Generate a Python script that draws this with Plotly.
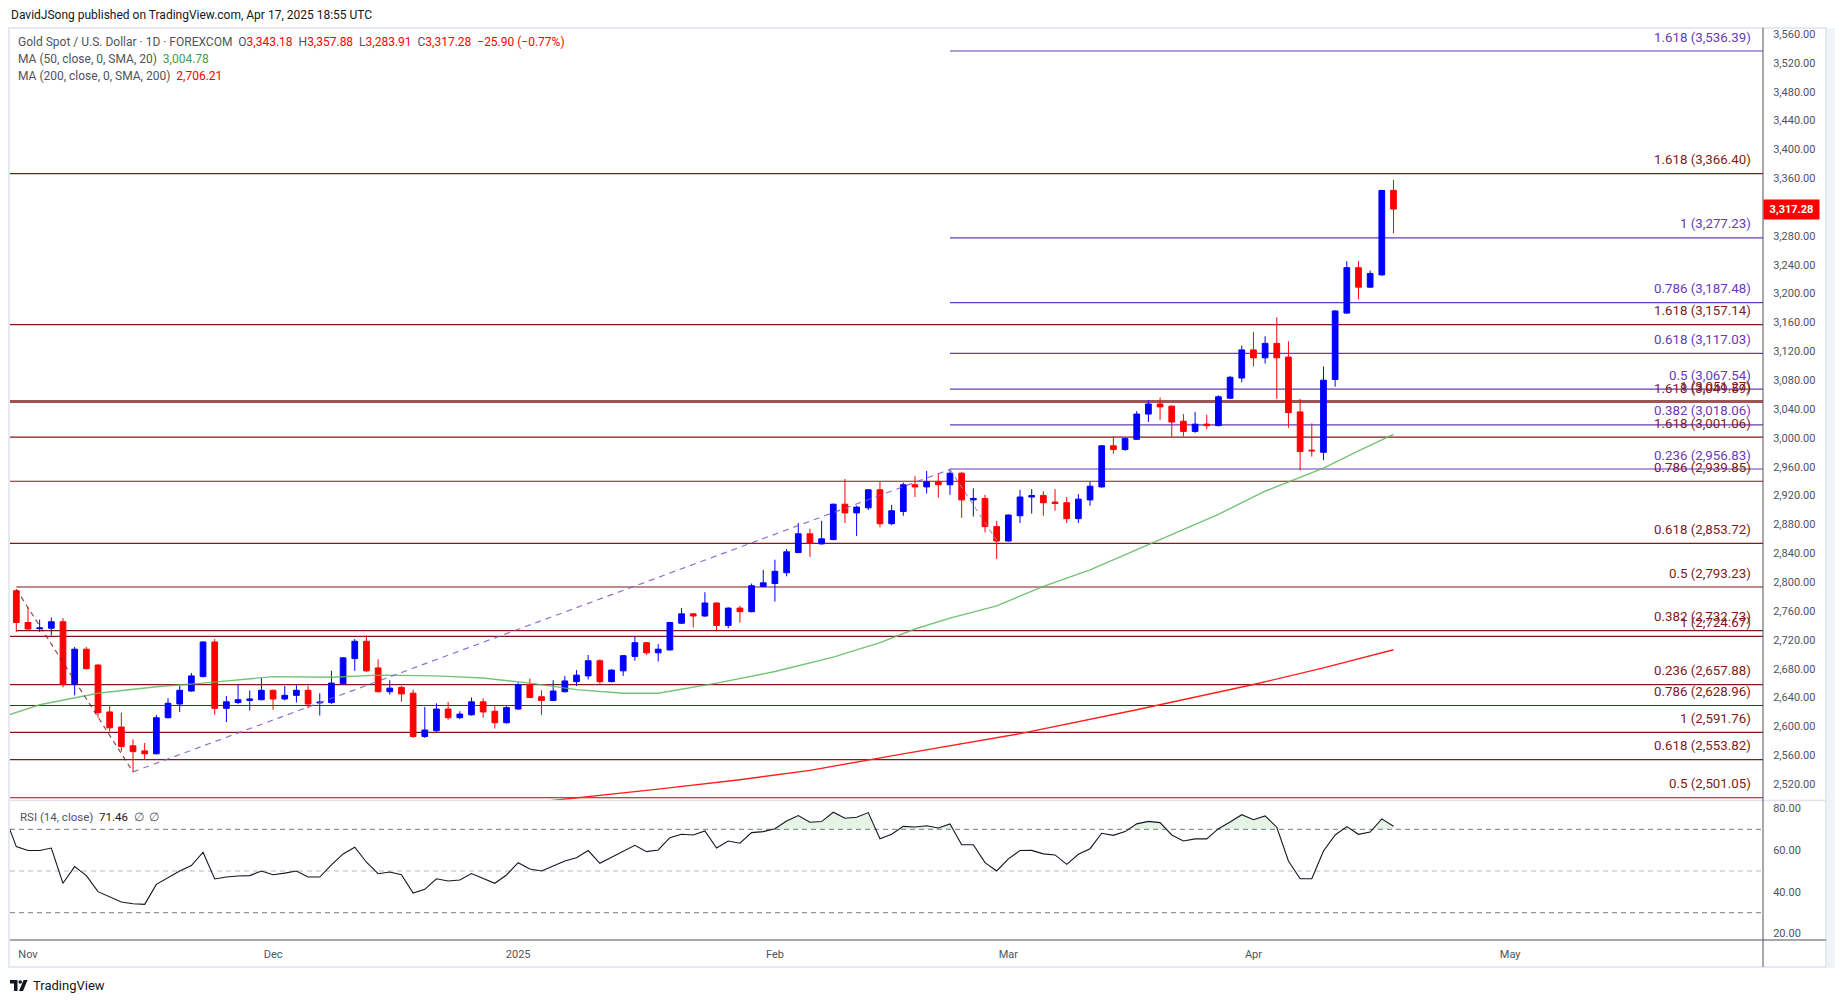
import plotly.graph_objects as go

# ---------------- data ----------------
# bar index 0 = 2024-10-31 ... 118 = 2025-04-17 (daily trading bars)
opens = [2788, 2744, 2735.5, 2736, 2745, 2658, 2707, 2685, 2620, 2599,
         2573, 2566, 2562, 2612, 2631, 2649, 2669, 2717, 2625, 2633,
         2636, 2637, 2650, 2638, 2643, 2650, 2632.5, 2633, 2659, 2694,
         2718, 2681, 2648, 2654, 2646, 2586, 2594, 2624, 2612, 2616,
         2634, 2621, 2605, 2624, 2658, 2641, 2636, 2648, 2662, 2670,
         2691, 2662, 2677, 2697, 2716, 2702, 2706, 2743, 2756, 2753,
         2771, 2740, 2764, 2759, 2794, 2798, 2813, 2841, 2867, 2853,
         2859, 2908, 2896, 2903, 2928, 2881, 2898, 2935, 2932, 2939,
         2935, 2951, 2914, 2916, 2877, 2857, 2892, 2918, 2920, 2911,
         2910, 2888, 2914, 2932, 2989, 2984, 2998, 3033, 3047, 3044,
         3023, 3009, 3019, 3017, 3055, 3083, 3122, 3111, 3131, 3112,
         3036, 2983, 2980, 3081, 3173, 3236, 3209, 3226, 3343.18]
highs = [2790, 2765, 2748, 2751, 2750, 2710, 2710, 2686, 2629, 2619,
         2582, 2577, 2616, 2639, 2656, 2674, 2718, 2721, 2642, 2658,
         2650, 2667, 2651, 2656, 2657, 2656, 2646, 2677, 2696, 2721,
         2726, 2693, 2664, 2656, 2651, 2627, 2632, 2634, 2621, 2640,
         2639, 2628, 2628, 2661, 2666, 2650, 2664, 2670, 2678, 2699,
         2693, 2679, 2699, 2725, 2717, 2714, 2745, 2764, 2757, 2786,
         2772, 2765, 2767, 2798, 2817, 2831, 2846, 2882, 2874, 2885,
         2909, 2943, 2906, 2929, 2939, 2907, 2938, 2947, 2954, 2951,
         2956.3, 2953, 2930, 2921, 2885, 2894, 2928, 2929, 2926, 2929,
         2918, 2922, 2939, 2990, 3002, 3000, 3037, 3052, 3056, 3045,
         3033, 3036, 3032, 3059, 3086, 3128, 3147, 3141, 3167, 3134,
         3054, 3020, 3099, 3177, 3245, 3245, 3232, 3344, 3357.88]
lows = [2731, 2734, 2731, 2726, 2654, 2643, 2679, 2612, 2593, 2565,
        2536.9, 2554, 2561, 2611, 2620, 2648, 2668, 2616, 2606, 2631,
        2622, 2636, 2623, 2636, 2633, 2625, 2615, 2631, 2658, 2677,
        2675, 2647, 2644, 2634, 2584, 2584, 2592, 2609, 2610, 2615,
        2612, 2597, 2604, 2623, 2639, 2616, 2635, 2647, 2656, 2665,
        2659, 2661, 2670, 2691, 2699, 2690, 2705, 2742, 2737, 2752,
        2732, 2736, 2744, 2758, 2793, 2773, 2808, 2840, 2835, 2852,
        2858, 2882, 2864, 2900, 2876, 2879, 2892, 2918, 2923, 2917,
        2921, 2889, 2891, 2869, 2832, 2856, 2882, 2895, 2892, 2899,
        2882, 2882, 2906, 2931, 2978, 2982, 2997, 3022, 3025, 3001,
        3002, 3007, 3012, 3016, 3054, 3077, 3099, 3103, 3054, 3014,
        2955, 2974, 2969, 3071, 3172, 3192, 3208, 3225, 3283.91]
closes = [2744, 2735, 2736.5, 2745, 2658, 2707, 2680, 2619, 2598, 2572,
          2565, 2562, 2612, 2632, 2650, 2670, 2717, 2625, 2634, 2637,
          2638, 2650, 2638, 2643, 2650, 2631, 2633.5, 2660, 2695, 2718,
          2677, 2648, 2653, 2645, 2586, 2595, 2624, 2612, 2617, 2634,
          2620, 2605, 2626, 2658, 2640, 2636, 2649, 2663, 2671, 2691,
          2662, 2678, 2698, 2716, 2702, 2707, 2744, 2756, 2753, 2771,
          2740, 2764, 2759, 2795, 2799, 2815, 2842, 2867, 2854, 2860,
          2908, 2896, 2904, 2928, 2881, 2899, 2935, 2932, 2939, 2935,
          2951, 2914, 2916, 2877, 2857, 2893, 2918, 2920, 2910, 2909,
          2888, 2915, 2933, 2989, 2984, 2999, 3033, 3047, 3043, 3022,
          3009, 3019, 3017, 3057, 3084, 3122, 3111, 3131, 3111, 3035,
          2981, 2982, 3080, 3176, 3236, 3209, 3228, 3343, 3317.28]
bars = list(range(len(closes)))

# RSI(14) values, bar -1 .. 118
rsi_x = list(range(-1, 119))
rsi_v = [76.5,
         61.7, 59.8, 59.8, 61.0, 44.1, 52.1, 47.8, 40.1, 37.7, 35.1,
         34.3, 34.0, 43.6, 46.8, 50.0, 52.6, 59.0, 46.2, 47.1, 47.6,
         47.8, 50.0, 48.2, 49.0, 50.0, 47.1, 47.1, 52.9, 58.2, 61.4,
         54.2, 48.7, 49.5, 48.2, 39.4, 41.2, 46.3, 45.2, 45.7, 48.8,
         46.5, 44.1, 48.1, 54.0, 51.0, 50.0, 52.4, 54.8, 56.4, 59.8,
         53.7, 56.6, 59.6, 62.3, 59.3, 60.1, 66.0, 67.6, 67.3, 69.2,
         61.0, 64.4, 63.3, 68.4, 68.9, 70.3, 74.0, 76.6, 73.4, 73.7,
         78.2, 75.3, 75.8, 78.0, 65.5, 67.6, 71.4, 71.1, 71.7, 70.6,
         72.6, 62.6, 62.6, 54.0, 50.0, 55.8, 59.8, 59.9, 58.2, 57.7,
         53.2, 58.0, 60.7, 68.1, 67.1, 68.9, 72.6, 73.8, 73.2, 67.3,
         64.4, 65.4, 65.4, 70.3, 73.5, 77.0, 74.6, 76.4, 71.0, 54.8,
         46.3, 46.3, 59.6, 67.3, 71.3, 67.6, 68.7, 75.0, 71.46]

# moving averages read at sample bars
ma50_x = [-1, 2, 7, 12, 16, 22, 27, 31, 36, 40, 44, 48, 52, 55, 60, 65, 70, 74,
          77, 80, 84, 88, 92, 95, 98, 103, 107, 110, 112, 115, 118]
ma50_v = [2614, 2630, 2646, 2655, 2660, 2669, 2668, 2671, 2670, 2667, 2660, 2651,
          2646, 2646, 2660, 2676, 2696, 2716, 2735, 2750, 2767, 2794, 2817, 2838,
          2860, 2894, 2926, 2945, 2958, 2982, 3004.78]
ma200_x = [40, 47, 55, 62, 68, 75, 86, 96, 106, 112, 118]
ma200_v = [2487, 2499, 2513, 2526, 2539, 2559, 2590, 2623, 2658, 2681, 2706.21]

# Fibonacci tools
fib_purple = [("1.618", 3536.39), ("1", 3277.23), ("0.786", 3187.48), ("0.618", 3117.03),
              ("0.5", 3067.54), ("0.382", 3018.06), ("0.236", 2956.83)]
fib_red = [("1.618", 3366.40), ("1.618", 3157.14), ("1.618", 3049.59), ("1", 3051.27),
           ("1.618", 3001.06), ("0.786", 2939.85), ("0.618", 2853.72), ("0.5", 2793.23),
           ("0.382", 2732.73), ("1", 2724.67), ("0.236", 2657.88), ("0.786", 2628.96),
           ("1", 2591.76), ("0.618", 2553.82), ("0.5", 2501.05)]
fib_red_from_first_bar = [2793.23, 2732.73]
fib_anchor_x = [0, 10, 80, 84]
fib_anchor_y = [2790.0, 2536.9, 2956.3, 2857.8]

month_bars = [1, 22, 43, 65, 85, 106, 128]
month_labels = ["Nov", "Dec", "2025", "Feb", "Mar", "Apr", "May"]
price_ticks = [2520 + 40 * k for k in range(27)]
rsi_ticks = [20, 40, 60, 80]

# ---------------- geometry ----------------
W, H = 1835, 1003
LP, RP, TP, BP = 10, 1763, 28, 940
X0, X1 = -0.54, 149.66
FONT = "Roboto, sans-serif"
PURPLE = "#673ab7"
DRED = "#801a1a"
GREY = "#50535e"


def xp(px):
    return (px - LP) / (RP - LP)


def yp(py):
    return (BP - py) / (BP - TP)


fig = go.Figure()

fig.add_trace(go.Candlestick(
    x=bars, open=opens, high=highs, low=lows, close=closes,
    increasing=dict(line=dict(color="#0000ff", width=1), fillcolor="#0000ff"),
    decreasing=dict(line=dict(color="#ff0000", width=1), fillcolor="#ff0000"),
    whiskerwidth=0, hoverinfo="skip", showlegend=False, xaxis="x", yaxis="y"))

fig.add_trace(go.Scatter(x=ma50_x, y=ma50_v, mode="lines", line=dict(color="#5cb85f", width=1.4),
                         opacity=0.85, showlegend=False, hoverinfo="skip", yaxis="y"))
fig.add_trace(go.Scatter(x=ma200_x, y=ma200_v, mode="lines", line=dict(color="#ff1f1f", width=1.4),
                         showlegend=False, hoverinfo="skip", yaxis="y"))

# fib tool legs
fig.add_trace(go.Scatter(x=fib_anchor_x[0:2], y=fib_anchor_y[0:2], mode="lines",
                         line=dict(color=DRED, width=1.2, dash="5px,4px"), opacity=0.8,
                         showlegend=False, hoverinfo="skip", yaxis="y"))
fig.add_trace(go.Scatter(x=fib_anchor_x[1:3], y=fib_anchor_y[1:3], mode="lines",
                         line=dict(color="#7e57c2", width=1.2, dash="6px,5px"), opacity=0.85,
                         showlegend=False, hoverinfo="skip", yaxis="y"))
fig.add_trace(go.Scatter(x=fib_anchor_x[2:4], y=fib_anchor_y[2:4], mode="lines",
                         line=dict(color="#8a8aa8", width=1.2, dash="5px,4px"), opacity=0.8,
                         showlegend=False, hoverinfo="skip", yaxis="y"))

# RSI overbought fill
fx, fy = [], []
for i in range(len(rsi_x)):
    if i > 0:
        a, b = rsi_v[i - 1], rsi_v[i]
        if (a - 70) * (b - 70) < 0:
            t = (70 - a) / (b - a)
            fx.append(rsi_x[i - 1] + t * (rsi_x[i] - rsi_x[i - 1]))
            fy.append(70)
    fx.append(rsi_x[i])
    fy.append(max(rsi_v[i], 70))
fig.add_trace(go.Scatter(x=[fx[0], fx[-1]], y=[70, 70], mode="lines", line=dict(width=0),
                         showlegend=False, hoverinfo="skip", yaxis="y2"))
fig.add_trace(go.Scatter(x=fx, y=fy, mode="lines", line=dict(width=0), fill="tonexty",
                         fillcolor="rgba(76,175,80,0.14)", showlegend=False, hoverinfo="skip",
                         yaxis="y2"))
fig.add_trace(go.Scatter(x=rsi_x, y=rsi_v, mode="lines", line=dict(color="#131722", width=1.1),
                         showlegend=False, hoverinfo="skip", yaxis="y2"))

shapes = []
annotations = []

# fib levels
for name, lvl in fib_purple:
    shapes.append(dict(type="line", xref="x", yref="y", x0=80, x1=X1, y0=lvl, y1=lvl,
                       line=dict(color=PURPLE, width=1.2), layer="below"))
    annotations.append(dict(xref="paper", yref="y", x=xp(1753), y=lvl, xanchor="right",
                            yanchor="middle", yshift=14, showarrow=False,
                            text=f"{name} ({lvl:,.2f})", font=dict(family=FONT, size=13.3, color=PURPLE)))
for name, lvl in fib_red:
    start = 0 if lvl in fib_red_from_first_bar else X0
    shapes.append(dict(type="line", xref="x", yref="y", x0=start, x1=X1, y0=lvl, y1=lvl,
                       line=dict(color=DRED, width=1.2), layer="below"))
    annotations.append(dict(xref="paper", yref="y", x=xp(1753), y=lvl, xanchor="right",
                            yanchor="middle", yshift=14, showarrow=False,
                            text=f"{name} ({lvl:,.2f})", font=dict(family=FONT, size=13.3, color=DRED)))

# RSI bands
for lvl, col in [(70, "#787b86"), (50, "#b8bac2"), (30, "#787b86")]:
    shapes.append(dict(type="line", xref="x", yref="y2", x0=X0, x1=X1, y0=lvl, y1=lvl,
                       line=dict(color=col, width=1, dash="5px,4px"), layer="below"))

# frame / axes lines
shapes += [
    dict(type="rect", xref="paper", yref="paper", x0=xp(1826), x1=xp(1835), y0=yp(28), y1=yp(968),
         fillcolor="#f0f3fa", line=dict(width=0)),
    dict(type="rect", xref="paper", yref="paper", x0=xp(9), x1=xp(1826), y0=yp(28), y1=yp(967),
         line=dict(color="#e6e9f0", width=2)),
    dict(type="line", xref="paper", yref="paper", x0=xp(10), x1=xp(1826), y0=yp(800.5), y1=yp(800.5),
         line=dict(color="#e0e3eb", width=1.5)),
    dict(type="line", xref="paper", yref="paper", x0=1, x1=1, y0=yp(28), y1=yp(967),
         line=dict(color=GREY, width=1)),
    dict(type="line", xref="paper", yref="paper", x0=xp(10), x1=xp(1826), y0=yp(940), y1=yp(940),
         line=dict(color=GREY, width=1)),
]


def P(px, py):
    return f"{xp(px):.6f},{yp(py):.6f}"


shapes += [
    dict(type="path", xref="paper", yref="paper",
         path=f"M{P(10,980)} L{P(17.5,980)} L{P(17.5,991)} L{P(14,991)} L{P(14,983.6)} L{P(10,983.6)} Z",
         fillcolor="#131722", line=dict(width=0)),
    dict(type="circle", xref="paper", yref="paper", x0=xp(18.4), x1=xp(22.0), y0=yp(980.2), y1=yp(983.8),
         fillcolor="#131722", line=dict(width=0)),
    dict(type="path", xref="paper", yref="paper",
         path=f"M{P(19,991)} L{P(23.6,980)} L{P(27.6,980)} L{P(23,991)} Z",
         fillcolor="#131722", line=dict(width=0)),
]

red = "#ff0000"
annotations += [
    dict(xref="paper", yref="paper", x=xp(9), y=yp(15), xanchor="left", yanchor="middle",
         showarrow=False, text="DavidJSong published on TradingView.com, Apr 17, 2025 18:55 UTC",
         font=dict(family=FONT, size=12, color="#131722")),
    dict(xref="paper", yref="paper", x=xp(16), y=yp(42), xanchor="left", yanchor="middle",
         showarrow=False,
         text=("Gold Spot / U.S. Dollar · 1D · FOREXCOM&nbsp;&nbsp;"
               f"O<span style='color:{red}'>3,343.18</span>&nbsp;&nbsp;"
               f"H<span style='color:{red}'>3,357.88</span>&nbsp;&nbsp;"
               f"L<span style='color:{red}'>3,283.91</span>&nbsp;&nbsp;"
               f"C<span style='color:{red}'>3,317.28</span>&nbsp;&nbsp;"
               f"<span style='color:{red}'>−25.90 (−0.77%)</span>"),
         font=dict(family=FONT, size=12, color=GREY)),
    dict(xref="paper", yref="paper", x=xp(16), y=yp(59), xanchor="left", yanchor="middle",
         showarrow=False,
         text="MA (50, close, 0, SMA, 20)&nbsp;&nbsp;<span style='color:#43a047'>3,004.78</span>",
         font=dict(family=FONT, size=12, color=GREY)),
    dict(xref="paper", yref="paper", x=xp(16), y=yp(76), xanchor="left", yanchor="middle",
         showarrow=False,
         text=f"MA (200, close, 0, SMA, 200)&nbsp;&nbsp;<span style='color:{red}'>2,706.21</span>",
         font=dict(family=FONT, size=12, color=GREY)),
    dict(xref="paper", yref="paper", x=xp(18), y=yp(817), xanchor="left", yanchor="middle",
         showarrow=False,
         text="RSI (14, close)&nbsp;&nbsp;<span style='color:#131722'>71.46</span>&nbsp;&nbsp;∅&nbsp;&nbsp;∅",
         font=dict(family=FONT, size=11.5, color=GREY)),
    dict(xref="paper", yref="y", x=1, y=closes[-1], xanchor="left", yanchor="middle",
         showarrow=False, text=f"<b>{closes[-1]:,.2f}</b>", bgcolor="#ff0000", borderpad=3,
         width=49, font=dict(family=FONT, size=11, color="#ffffff")),
    dict(xref="paper", yref="paper", x=xp(31), y=yp(985.5), xanchor="left", yanchor="middle",
         showarrow=False, text="TradingView", font=dict(family=FONT, size=13, color="#131722")),
]

fig.update_layout(
    width=W, height=H, margin=dict(l=LP, r=W - RP, t=TP, b=H - BP),
    paper_bgcolor="#ffffff", plot_bgcolor="#ffffff", showlegend=False,
    font=dict(family=FONT, size=11, color=GREY),
    xaxis=dict(domain=[0, 1], range=[X0, X1], anchor="y2", tickvals=month_bars, ticktext=month_labels,
               showgrid=False, zeroline=False, showline=False, ticks="outside", ticklen=4,
               tickcolor="rgba(0,0,0,0)", tickfont=dict(family=FONT, size=11, color=GREY),
               rangeslider=dict(visible=False), fixedrange=True),
    yaxis=dict(domain=[yp(800), 1], range=[2497.9, 3568.3], side="right", anchor="x",
               tickvals=price_ticks, tickformat=",.2f", showgrid=False, zeroline=False,
               showline=False, ticks="outside", ticklen=7, tickcolor="rgba(0,0,0,0)",
               tickfont=dict(family=FONT, size=11, color=GREY)),
    yaxis2=dict(domain=[0, yp(801)], range=[16.91, 83.57], side="right", anchor="x",
                tickvals=rsi_ticks, tickformat=".2f", showgrid=False, zeroline=False,
                showline=False, ticks="outside", ticklen=7, tickcolor="rgba(0,0,0,0)",
                tickfont=dict(family=FONT, size=11, color=GREY)),
    shapes=shapes, annotations=annotations,
)

fig.write_html("out.html", config=dict(displayModeBar=False, staticPlot=True),
               post_script="document.body.style.margin='0';document.body.style.overflow='hidden';")
